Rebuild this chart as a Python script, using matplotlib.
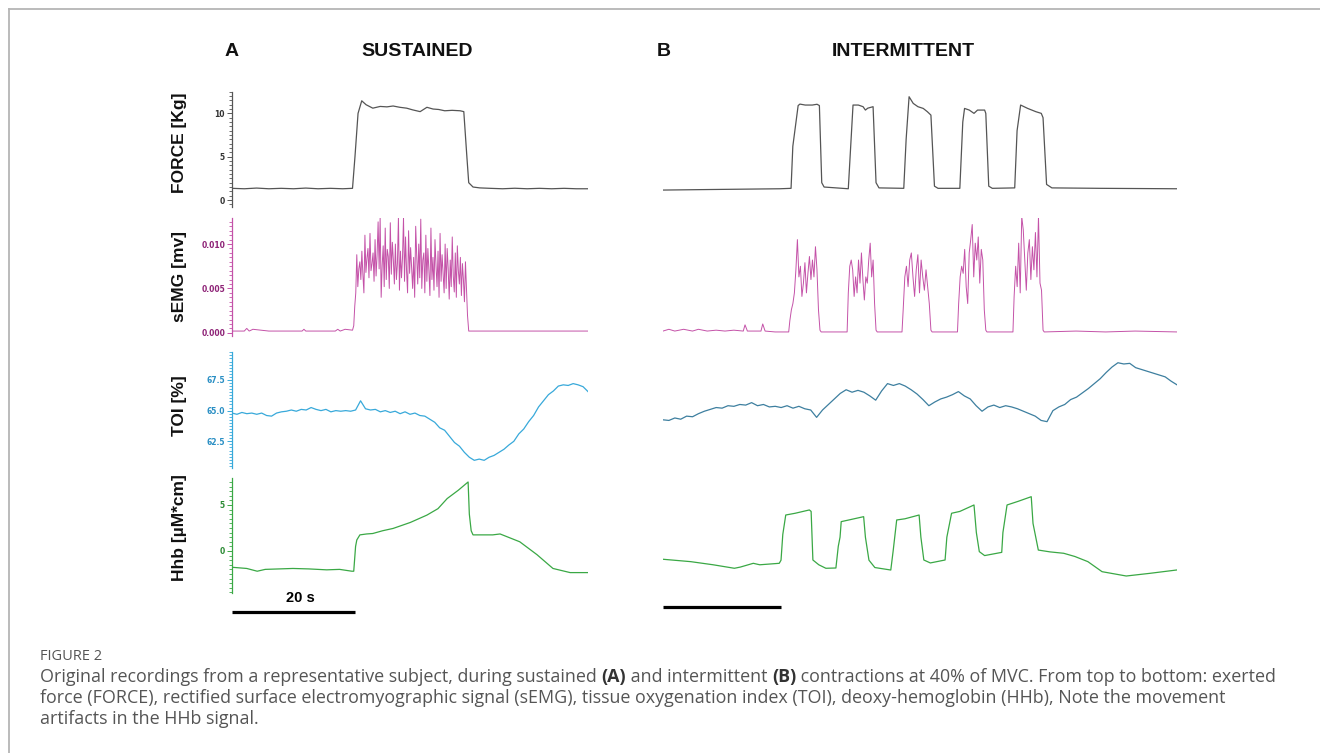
import numpy as np
import matplotlib.pyplot as plt
from matplotlib.ticker import MultipleLocator, FormatStrFormatter
from matplotlib.transforms import blended_transform_factory

W, H = 1320, 753

# ---------------- data (time in seconds) ----------------
# panel A, sustained contraction
force_a_t = [0, 2, 4, 6, 8, 10, 12, 14, 16, 18, 19.6, 20.0, 20.5, 21.1, 21.8, 22.9, 24.1,
             25.2, 26.2, 27.3, 28.4, 29.4, 30.6, 31.7, 32.7, 33.6, 34.6, 35.8, 37.1, 37.7,
             38.2, 38.5, 39.2, 40.3, 42, 44, 46, 48, 50, 52, 54, 56, 57.9]
force_a_v = [1.35, 1.3, 1.38, 1.3, 1.35, 1.3, 1.38, 1.3, 1.35, 1.3, 1.35, 5.0, 10.0, 11.45,
             11.0, 10.6, 10.8, 10.75, 10.85, 10.7, 10.6, 10.4, 10.2, 10.7, 10.5, 10.45,
             10.3, 10.35, 10.3, 10.2, 5.0, 2.0, 1.5, 1.4, 1.35, 1.3, 1.36, 1.3, 1.35, 1.3,
             1.35, 1.3, 1.3]

emg_a_rest_t = [0, 2.0, 2.4, 2.8, 3.4, 6, 11.4, 11.7, 12.0, 16.8, 17.2, 17.6, 18.4, 19.6,
                38.5, 45, 52, 57.9]
emg_a_rest_v = [0.0002, 0.0002, 0.0005, 0.0002, 0.0004, 0.0002, 0.0002, 0.0004, 0.0002,
                0.0002, 0.0004, 0.0002, 0.0004, 0.0003, 0.0002, 0.0002, 0.0002, 0.0002]
emg_a_burst_span = (19.8, 38.3)
emg_a_burst = [0.0008, 0.0030, 0.0045, 0.0088, 0.0052, 0.0072, 0.0080, 0.0060, 0.0092,
               0.0066, 0.0045, 0.0110, 0.0068, 0.0084, 0.0095, 0.0062, 0.0112, 0.0070,
               0.0078, 0.0090, 0.0058, 0.0105, 0.0064, 0.0088, 0.0125, 0.0072, 0.0130,
               0.0040, 0.0076, 0.0098, 0.0052, 0.0118, 0.0060, 0.0094, 0.0086, 0.0050,
               0.0124, 0.0066, 0.0102, 0.0082, 0.0055, 0.0100, 0.0060, 0.0078, 0.0130,
               0.0048, 0.0092, 0.0062, 0.0084, 0.0130, 0.0058, 0.0108, 0.0070, 0.0045,
               0.0115, 0.0067, 0.0096, 0.0074, 0.0050, 0.0085, 0.0040, 0.0120, 0.0088,
               0.0055, 0.0100, 0.0062, 0.0128, 0.0050, 0.0082, 0.0090, 0.0045, 0.0110,
               0.0058, 0.0095, 0.0070, 0.0042, 0.0118, 0.0060, 0.0085, 0.0048, 0.0105,
               0.0076, 0.0052, 0.0092, 0.0040, 0.0112, 0.0058, 0.0088, 0.0066, 0.0045,
               0.0100, 0.0050, 0.0095, 0.0072, 0.0038, 0.0082, 0.0052, 0.0108, 0.0064,
               0.0046, 0.0090, 0.0040, 0.0098, 0.0070, 0.0055, 0.0085, 0.0042, 0.0078,
               0.0060, 0.0035, 0.0080, 0.0050, 0.0020]

toi_a_span = (0, 57.9)
toi_a = [64.80, 64.70, 64.85, 64.75, 64.80, 64.70, 64.80, 64.60, 64.55, 64.80, 64.90,
         64.95, 65.05, 64.95, 65.10, 65.05, 65.25, 65.10, 65.00, 65.10, 64.90, 65.00,
         64.95, 65.00, 64.95, 65.05, 65.80, 65.15, 65.05, 65.10, 64.90, 65.00, 64.85,
         64.95, 64.75, 64.90, 64.70, 64.80, 64.60, 64.55, 64.30, 64.05, 63.60, 63.40,
         62.90, 62.40, 62.10, 61.60, 61.20, 60.95, 61.05, 60.95, 61.20, 61.35, 61.60,
         61.85, 62.20, 62.50, 63.10, 63.50, 64.10, 64.60, 65.30, 65.80, 66.30, 66.60,
         67.00, 67.10, 67.05, 67.20, 67.10, 66.95, 66.55]

hhb_a_t = [0, 2.4, 4.1, 5.4, 9.9, 12.5, 15.4, 17.5, 19.5, 19.8, 20.1, 20.3, 20.8, 21.9,
           22.9, 24.5, 26.2, 29.0, 31.7, 33.5, 35.0, 36.8, 38.4, 38.6, 38.9, 39.2, 42.4,
           43.6, 46.8, 49.6, 52.2, 55.0, 57.9]
hhb_a_v = [-1.77, -1.9, -2.2, -2.0, -1.9, -1.95, -2.05, -2.0, -2.2, -2.2, 0.5, 1.2, 1.75,
           1.85, 1.9, 2.2, 2.45, 3.1, 3.9, 4.6, 5.7, 6.6, 7.5, 4.0, 2.2, 1.75, 1.75, 1.85,
           1.0, -0.4, -1.9, -2.35, -2.35]

# panel B, intermittent contractions
force_b_t = [0, 6.3, 13.1, 19.8, 21.7, 22.0, 22.9, 23.2, 24.1, 25.3, 26.1, 26.5, 26.9,
             27.3, 31.4, 32.2, 33.1, 33.9, 34.3, 34.7, 35.6, 36.1, 36.6, 40.8, 41.2, 41.7,
             42.4, 43.2, 44.1, 44.8, 45.4, 46.0, 46.6, 50.3, 50.8, 51.1, 51.9, 52.7, 53.3,
             54.5, 54.7, 55.2, 55.8, 59.6, 60.0, 60.6, 61.8, 63.2, 64.1, 64.4, 65.0, 65.9,
             74.1, 87.1]
force_b_v = [1.15, 1.2, 1.25, 1.3, 1.35, 6.2, 10.9, 11.07, 10.96, 10.96, 11.05, 10.9, 2.0,
             1.5, 1.3, 10.96, 10.96, 10.77, 10.38, 10.6, 10.77, 2.0, 1.4, 1.35, 7.0, 11.92,
             11.15, 10.77, 10.57, 10.19, 9.8, 1.6, 1.35, 1.35, 9.0, 10.57, 10.38, 10.0,
             10.38, 10.38, 10.0, 1.6, 1.35, 1.4, 8.0, 10.96, 10.57, 10.19, 10.0, 9.5, 1.8,
             1.4, 1.35, 1.3]

emg_b_rest_t = [0, 1, 2, 3.5, 5, 6, 7.5, 9, 10.5, 12, 13.6, 13.9, 14.3, 16.6, 16.9, 17.3,
                19, 21.3, 26.8, 29, 31.2, 36.3, 38, 40.5, 45.6, 48, 49.9, 54.9, 57, 59.3,
                64.6, 70, 75, 80, 87.1]
emg_b_rest_v = [0.0002, 0.0004, 0.0002, 0.0004, 0.0002, 0.0004, 0.0002, 0.0003, 0.0002,
                0.0003, 0.0002, 0.0009, 0.0002, 0.0002, 0.0010, 0.0002, 0.0001, 0.0001,
                0.0001, 0.0001, 0.0001, 0.0001, 0.0001, 0.0001, 0.0001, 0.0001, 0.0001,
                0.0001, 0.0001, 0.0001, 0.0001, 0.0002, 0.0001, 0.0002, 0.0001]
emg_b_spans = [(21.5, 26.6), (31.4, 36.1), (40.7, 45.4), (50.1, 54.7), (59.5, 64.4)]
emg_b_burst1 = [0.0014, 0.0026, 0.0033, 0.0045, 0.0071, 0.0105, 0.0063, 0.0075, 0.0041,
                0.0056, 0.0079, 0.0045, 0.0067, 0.0086, 0.0060, 0.0082, 0.0063, 0.0097,
                0.0071, 0.0026, 0.0003]
emg_b_burst2 = [0.0045, 0.0075, 0.0082, 0.0071, 0.0041, 0.0063, 0.0045, 0.0082, 0.0056,
                0.0090, 0.0060, 0.0037, 0.0063, 0.0056, 0.0082, 0.0101, 0.0063, 0.0082,
                0.0033, 0.0003]
emg_b_burst3 = [0.0026, 0.0063, 0.0075, 0.0052, 0.0082, 0.0090, 0.0063, 0.0041, 0.0071,
                0.0088, 0.0045, 0.0082, 0.0063, 0.0048, 0.0071, 0.0052, 0.0033, 0.0003]
emg_b_burst4 = [0.0033, 0.0063, 0.0075, 0.0067, 0.0094, 0.0052, 0.0033, 0.0090, 0.0105,
                0.0122, 0.0063, 0.0101, 0.0082, 0.0108, 0.0056, 0.0094, 0.0082, 0.0026,
                0.0003]
emg_b_burst5 = [0.0041, 0.0075, 0.0052, 0.0101, 0.0045, 0.0131, 0.0116, 0.0082, 0.0048,
                0.0090, 0.0105, 0.0060, 0.0097, 0.0071, 0.0113, 0.0063, 0.0131, 0.0056,
                0.0048, 0.0003]

toi_b_span = (0, 87.1)
toi_b = [64.25, 64.20, 64.40, 64.30, 64.55, 64.50, 64.75, 64.95, 65.10, 65.25, 65.20,
         65.40, 65.35, 65.50, 65.45, 65.65, 65.40, 65.50, 65.30, 65.35, 65.25, 65.40,
         65.20, 65.35, 65.15, 65.05, 64.45, 65.05, 65.50, 65.95, 66.40, 66.70, 66.50,
         66.65, 66.50, 66.20, 65.85, 66.60, 67.20, 67.05, 67.20, 67.00, 66.70, 66.35,
         65.90, 65.40, 65.70, 65.95, 66.10, 66.30, 66.55, 66.20, 65.95, 65.40, 64.95,
         65.30, 65.45, 65.25, 65.40, 65.30, 65.15, 64.95, 64.75, 64.55, 64.20, 64.10,
         65.00, 65.30, 65.50, 65.90, 66.10, 66.45, 66.80, 67.20, 67.60, 68.10, 68.55,
         68.90, 68.80, 68.85, 68.50, 68.35, 68.20, 68.05, 67.90, 67.75, 67.40, 67.10]

hhb_b_t = [0, 4.7, 8.5, 12.1, 13.1, 15.3, 16.4, 19.7, 20.0, 20.3, 20.8, 22.4, 24.8, 25.1,
           25.4, 26.4, 27.6, 29.3, 29.7, 30.0, 30.2, 31.7, 34.0, 34.3, 34.9, 35.9, 38.6,
           39.0, 39.6, 41.0, 43.4, 43.7, 44.2, 45.3, 47.8, 48.1, 48.9, 50.3, 52.7, 53.1,
           53.6, 54.5, 57.4, 57.6, 58.3, 60.2, 62.4, 62.7, 63.6, 65.6, 67.9, 69.8, 72.0,
           74.4, 78.5, 82.5, 87.0]
hhb_b_v = [-0.9, -1.16, -1.5, -1.88, -1.75, -1.34, -1.5, -1.34, -1.0, 1.8, 3.91, 4.1, 4.46,
           4.3, -0.98, -1.5, -1.88, -1.85, 0.5, 1.5, 3.19, 3.4, 3.73, 1.5, -1.0, -1.8,
           -2.07, 0.0, 3.37, 3.5, 3.91, 1.5, -0.98, -1.3, -0.98, 1.5, 4.1, 4.3, 5.0, 2.0,
           -0.07, -0.5, -0.15, 2.0, 5.0, 5.4, 5.9, 3.0, 0.1, -0.1, -0.25, -0.6, -1.16,
           -2.25, -2.72, -2.43, -2.07]

ylabels = ["FORCE [Kg]", "sEMG [mv]", "TOI [%]", "Hhb [µM*cm]"]
line_colors = ["#555555", "#c452a8", "#38a9da", "#3aa845"]
tick_colors = ["#333333", "#8e2377", "#2a8fc4", "#2b8a33"]
toi_b_color = "#3d7f9f"

# ---------------- figure ----------------
fig = plt.figure(figsize=(W / 100, H / 100), dpi=100)
fig.patch.set_facecolor("white")


def px_axes(left, top, right, bottom):
    return fig.add_axes([left / W, 1 - bottom / H, (right - left) / W, (bottom - top) / H])


rows = [(91.7, 206.7), (218.3, 335.5), (351.7, 468.3), (478.3, 593.3)]
ylims = [(-0.77, 12.5), (-0.0003, 0.0129), (60.3, 69.8), (-4.6, 7.9)]
majors = [5, 0.005, 2.5, 5]
minors = [0.5, 0.0005, 0.25, 0.5]
fmts = ["%d", "%.3f", "%.1f", "%d"]
label_y = [143, 277, 406, 528]


def emg_series(rest_t, rest_v, spans, bursts):
    t = list(rest_t)
    v = list(rest_v)
    for (t0, t1), vals in zip(spans, bursts):
        t += list(np.linspace(t0, t1, len(vals)))
        v += list(vals)
    order = np.argsort(t)
    return np.array(t)[order], np.array(v)[order]


emg_a_t, emg_a_v = emg_series(emg_a_rest_t, emg_a_rest_v, [emg_a_burst_span], [emg_a_burst])
emg_b_t, emg_b_v = emg_series(emg_b_rest_t, emg_b_rest_v, emg_b_spans,
                              [emg_b_burst1, emg_b_burst2, emg_b_burst3, emg_b_burst4, emg_b_burst5])

series_a = [
    (force_a_t, force_a_v),
    (emg_a_t, emg_a_v),
    (np.linspace(*toi_a_span, len(toi_a)), toi_a),
    (hhb_a_t, hhb_a_v),
]
series_b = [
    (force_b_t, force_b_v),
    (emg_b_t, emg_b_v),
    (np.linspace(*toi_b_span, len(toi_b)), toi_b),
    (hhb_b_t, hhb_b_v),
]

axes_a, axes_b = [], []
for i, (top, bottom) in enumerate(rows):
    ax = px_axes(232, top, 588, bottom)
    bx = px_axes(663, top, 1177, bottom)
    for a in (ax, bx):
        a.set_ylim(*ylims[i])
        a.patch.set_alpha(0)
        for s in ("top", "right", "bottom"):
            a.spines[s].set_visible(False)
        a.set_xticks([])
    ax.set_xlim(0, 57.9)
    bx.set_xlim(0, 87.1)
    bx.spines["left"].set_visible(False)
    bx.set_yticks([])

    ax.spines["left"].set_color(line_colors[i])
    ax.spines["left"].set_linewidth(0.9)
    ax.yaxis.set_major_locator(MultipleLocator(majors[i]))
    ax.yaxis.set_minor_locator(MultipleLocator(minors[i]))
    ax.yaxis.set_major_formatter(FormatStrFormatter(fmts[i]))
    ax.tick_params(axis="y", which="major", length=3.5, width=0.7, color=line_colors[i],
                   labelsize=5.5, labelcolor=tick_colors[i], pad=1.5)
    ax.tick_params(axis="y", which="minor", length=2, width=0.6, color=line_colors[i])
    for lab in ax.get_yticklabels():
        lab.set_fontweight("bold")

    lw = 0.7 if i == 1 else 0.9
    ax.plot(*series_a[i], color=line_colors[i], lw=lw)
    bcol = toi_b_color if i == 2 else line_colors[i]
    bx.plot(*series_b[i], color=bcol, lw=lw)

    fig.text(179 / W, 1 - label_y[i] / H, ylabels[i], rotation=90, ha="center", va="center",
             fontsize=12.5, fontweight="bold", family="Liberation Sans", color="#111111")
    axes_a.append(ax)
    axes_b.append(bx)

# scale bars (20 s)
tr_a = blended_transform_factory(axes_a[3].transData, fig.transFigure)
axes_a[3].plot([0, 20], [1 - 611.5 / H] * 2, color="black", lw=2.3, transform=tr_a,
               clip_on=False, solid_capstyle="butt")
fig.text(300 / W, 1 - 598 / H, "20 s", ha="center", va="center", fontsize=10.5,
         fontweight="bold", family="Liberation Sans")
tr_b = blended_transform_factory(axes_b[3].transData, fig.transFigure)
axes_b[3].plot([0, 20], [1 - 606.7 / H] * 2, color="black", lw=2.3, transform=tr_b,
               clip_on=False, solid_capstyle="butt")

# panel titles
for x, s in [(232, "A"), (417, "SUSTAINED"), (664, "B"), (903, "INTERMITTENT")]:
    fig.text(x / W, 1 - 52 / H, s, ha="center", va="center", fontsize=14,
             fontweight="bold", family="Liberation Sans", color="#111111")

# frame
fig.add_artist(plt.Line2D([9 / W, 9 / W], [0, 1 - 9 / H], color="#b5b5b5", lw=1.3))
fig.add_artist(plt.Line2D([9 / W, 1], [1 - 9 / H, 1 - 9 / H], color="#b5b5b5", lw=1.3))

# caption
cap_color = "#555555"
fig.text(40 / W, 1 - 657 / H, "FIGURE 2", ha="left", va="center", fontsize=10.5,
         family="Open Sans", color=cap_color)

renderer = fig.canvas.get_renderer()


def draw_runs(x_px, y_px, runs):
    x = x_px / W
    for s, bold in runs:
        t = fig.text(x, 1 - y_px / H, s, ha="left", va="center", fontsize=12.9,
                     family="Open Sans", color="#333333" if bold else cap_color,
                     fontweight="bold" if bold else "normal")
        x += t.get_window_extent(renderer).width / W


draw_runs(40, 677, [("Original recordings from a representative subject, during sustained ", False),
                    ("(A)", True), (" and intermittent ", False), ("(B)", True),
                    (" contractions at 40% of MVC. From top to bottom: exerted", False)])
draw_runs(40, 698, [("force (FORCE), rectified surface electromyographic signal (sEMG), tissue "
                     "oxygenation index (TOI), deoxy-hemoglobin (HHb), Note the movement", False)])
draw_runs(40, 719, [("artifacts in the HHb signal.", False)])

fig.savefig("out.png", dpi=100)
